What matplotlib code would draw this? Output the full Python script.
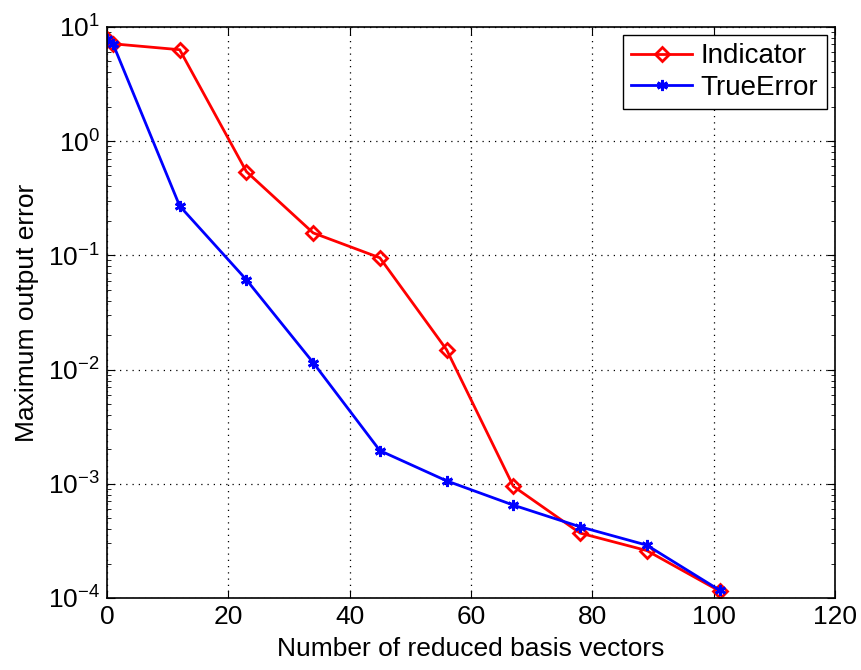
import matplotlib
matplotlib.use('Agg')
import matplotlib.pyplot as plt
import numpy as np

# donnees
n_basis = [0, 1, 12, 23, 34, 45, 56, 67, 78, 89, 101]
indicator = [7.8, 7.1, 6.3, 0.54, 0.157, 0.095, 0.0149, 0.00095, 0.00037, 0.00026, 0.000115]
true_error = [7.8, 7.1, 0.27, 0.061, 0.0115, 0.00195, 0.00106, 0.00065, 0.00042, 0.00029, 0.000117]

plt.rcParams['font.family'] = ['Liberation Sans', 'DejaVu Sans']

fig = plt.figure(figsize=(8.62, 6.7), dpi=100)
ax = fig.add_axes([0.124, 0.1075, 0.8445, 0.8525])

ax.semilogy(n_basis, indicator, color='red', lw=2, marker='D', ms=7,
            mfc='none', mec='red', mew=2, label='Indicator')
# asterisque a 6 branches facon matlab
ax.semilogy(n_basis, true_error, color='blue', lw=2, marker=(6, 2, 0), ms=8,
            mfc='blue', mec='blue', mew=2, label='TrueError')

ax.set_xlim(0, 120)
ax.set_ylim(1e-4, 1e1)
ax.set_xticks(np.arange(0, 121, 20))
ax.grid(True, which='major', ls=(0, (1, 4)), color='black', lw=0.9)
ax.tick_params(which='both', direction='in', top=True, right=True, labelsize=19)
ax.tick_params(which='major', length=6, pad=5)
ax.tick_params(which='minor', length=3)
for s in ax.spines.values():
    s.set_linewidth(1.2)

ax.set_xlabel('Number of reduced basis vectors', fontsize=19, labelpad=6)
ax.set_ylabel('Maximum output error', fontsize=19, labelpad=6)

leg = ax.legend(loc='upper right', fontsize=20, fancybox=False, edgecolor='black',
                framealpha=1, borderpad=0.3, handlelength=2.2, handletextpad=0.3,
                labelspacing=0.2, borderaxespad=0.3)
leg.get_frame().set_linewidth(1.0)

fig.savefig('out.png', dpi=100)
